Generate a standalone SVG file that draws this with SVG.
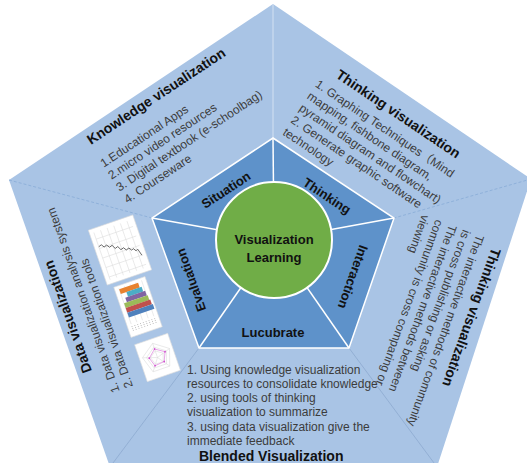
<svg xmlns="http://www.w3.org/2000/svg" width="527" height="463" viewBox="0 0 527 463">
  <style>
    .txt { font-family: "Liberation Sans", Arial, "Noto Sans CJK SC", sans-serif; }
    .ttl { font-size: 14px; font-weight: bold; fill: #111; }
    .itm { font-size: 12px; fill: #3c3c3c; }
    .seg { font-size: 13px; font-weight: bold; fill: #111; text-anchor: middle; }
    .divider { stroke: #8fb1da; stroke-width: 1; stroke-dasharray: 3 2; fill: none; }
    .spoke { stroke: #ffffff; stroke-width: 1.5; }
    .grid { stroke: #d9d9d9; stroke-width: 0.5; fill: none; }
  </style>

  <!-- outer ring -->
  <g id="outer-ring">
    <polygon points="273,4 531,179 437,467 110,467 9,180" fill="#a9c4e5"/>
  </g>

  <!-- connectors: section dividers and inner spokes -->
  <g id="connectors">
    <line x1="273" y1="4" x2="273" y2="138" stroke="#d3e1f2" stroke-width="1"/>
    <line class="divider" x1="9" y1="180" x2="152" y2="218"/>
    <line class="divider" x1="531" y1="179" x2="394" y2="218"/>
    <line x1="110" y1="467" x2="199" y2="348" stroke="#8da9cf" stroke-width="0.8"/>
    <line x1="437" y1="467" x2="349" y2="348" stroke="#8da9cf" stroke-width="0.8"/>
  </g>

  <!-- inner pentagon -->
  <g id="inner-ring">
    <polygon points="273,138 394,218 349,348 199,348 152,218" fill="#5e92ca" stroke="#ffffff" stroke-width="1.5"/>
    <line class="spoke" x1="273" y1="138" x2="274" y2="240"/>
    <line class="spoke" x1="394" y1="218" x2="274" y2="240"/>
    <line class="spoke" x1="349" y1="348" x2="274" y2="240"/>
    <line class="spoke" x1="199" y1="348" x2="274" y2="240"/>
    <line class="spoke" x1="152" y1="218" x2="274" y2="240"/>
  </g>

  <!-- centre node -->
  <g id="center">
    <circle cx="274" cy="240" r="58" fill="#70ad47" stroke="#ffffff" stroke-width="2"/>
    <text class="txt seg" x="274" y="244">Visualization</text>
    <text class="txt seg" x="274" y="262">Learning</text>
  </g>

  <!-- inner segment labels -->
  <g id="seg-situation">
    <text class="txt seg" transform="translate(226 190) rotate(-33.5)" y="4.5">Situation</text>
  </g>
  <g id="seg-thinking">
    <text class="txt seg" transform="translate(327 196) rotate(33.5)" y="4.5">Thinking</text>
  </g>
  <g id="seg-interaction">
    <text class="txt seg" transform="translate(353 277) rotate(109.5)" y="4.5">Interaction</text>
  </g>
  <g id="seg-evaluation">
    <text class="txt seg" transform="translate(191 280) rotate(-109.5)" y="4.5">Evaluation</text>
  </g>
  <g id="seg-lucubrate">
    <text class="txt seg" x="273" y="337">Lucubrate</text>
  </g>

  <!-- knowledge visualization -->
  <g id="knowledge" class="txt" transform="translate(91 145) rotate(-33.5)">
    <text class="ttl" x="0" y="0">Knowledge visualization</text>
    <text class="itm" x="-2" y="26">1.Educational Apps</text>
    <text class="itm" x="-2" y="40.3">2.micro video resources</text>
    <text class="itm" x="-2" y="54.6">3. Digital textbook (e-schoolbag)</text>
    <text class="itm" x="-2" y="69">4. Courseware</text>
  </g>

  <!-- thinking visualization (top right) -->
  <g id="thinking-top" class="txt" transform="translate(335 77) rotate(34)">
    <text class="ttl" x="0" y="0">Thinking visualization</text>
    <text class="itm" x="-12" y="19">1. Graphing Techniques（Mind</text>
    <text class="itm" x="-12" y="33.5">mapping, fishbone diagram,</text>
    <text class="itm" x="-12" y="48">pyramid diagram and flowchart)</text>
    <text class="itm" x="-12" y="62.5">2. Generate graphic software</text>
    <text class="itm" x="-12" y="77">technology</text>
  </g>

  <!-- thinking visualization (right) -->
  <g id="thinking-right" class="txt" transform="translate(492 247) rotate(110)">
    <text class="ttl" x="0" y="0">Thinking visualization</text>
    <text class="itm" x="-7" y="19">The interactive methods of community</text>
    <text class="itm" x="-7" y="33.5">is cross publishing or asking</text>
    <text class="itm" x="-7" y="48">The interactive methods between</text>
    <text class="itm" x="-7" y="62.5">community  is cross comparing or</text>
    <text class="itm" x="-7" y="77">viewing</text>
  </g>

  <!-- blended visualization -->
  <g id="blended" class="txt">
    <text class="itm" x="187" y="373.5">1. Using knowledge visualization</text>
    <text class="itm" x="187" y="387.8">resources to consolidate knowledge</text>
    <text class="itm" x="187" y="402.1">2. using tools of thinking</text>
    <text class="itm" x="187" y="416.4">visualization to summarize</text>
    <text class="itm" x="187" y="430.7">3. using data visualization give the</text>
    <text class="itm" x="187" y="445">immediate feedback</text>
    <text class="ttl" x="199" y="461">Blended Visualization</text>
  </g>

  <!-- data visualization -->
  <g id="data" class="txt" transform="translate(92 371) rotate(-109.5)">
    <text class="ttl" x="0" y="0">Data visualization</text>
    <text class="itm" x="-28" y="19.4">1. Data visualization analysis system</text>
    <text class="itm" x="-28" y="33.7">2. Data visualization tools</text>
  </g>

  <!-- small chart thumbnails -->
  <g id="chart-line" transform="translate(120 250) rotate(-19)">
    <rect x="-23.5" y="-29" width="47" height="58" fill="#ffffff" stroke="#dcdcdc" stroke-width="0.6"/>
    <path class="grid" d="M-19,-25 V25 M-12,-25 V25 M-5,-25 V25 M2,-25 V25 M9,-25 V25 M16,-25 V25 M-19,-18 H20 M-19,-8 H20 M-19,2 H20 M-19,12 H20 M-19,22 H20"/>
    <polyline points="-19,-10 -16,-11 -14,-8 -11,-9 -9,-6 -6,-7 -4,-3 -1,-4 1,0 4,-1 6,2 9,1 11,4 13,3 15,6 17,5 19,12" fill="none" stroke="#555" stroke-width="0.8"/>
  </g>

  <g id="chart-bar" transform="translate(138 307) rotate(-19)">
    <rect x="-16.5" y="-26.5" width="33" height="53" fill="#ffffff" stroke="#dcdcdc" stroke-width="0.6"/>
    <path class="grid" d="M-12,-24 V14 M-6,-24 V14 M0,-24 V14 M6,-24 V14 M12,-24 V14"/>
    <rect x="-12" y="-23" width="20" height="5" fill="#e8822f"/>
    <rect x="-6" y="-18" width="16" height="5" fill="#4bacc6"/>
    <rect x="-9" y="-13" width="21" height="5" fill="#8064a2"/>
    <rect x="-12" y="-8" width="25" height="5" fill="#9bbb59"/>
    <rect x="-12" y="-3" width="26" height="5" fill="#c0504d"/>
    <rect x="-12" y="2" width="27" height="5" fill="#4f81bd"/>
    <path d="M-12,16 V22 M-9,16 V22 M-6,16 V22 M-3,16 V22 M0,16 V22 M3,16 V22 M6,16 V22 M9,16 V22 M12,16 V22" stroke="#b5b5b5" stroke-width="0.8" stroke-dasharray="1 1"/>
  </g>

  <g id="chart-radar" transform="translate(157.5 357.5) rotate(-19)">
    <rect x="-17.5" y="-19.5" width="35" height="39" fill="#ffffff" stroke="#dcdcdc" stroke-width="0.6"/>
    <polygon class="grid" points="0,-15 14.3,-4.6 8.8,12.1 -8.8,12.1 -14.3,-4.6" stroke="#bdbdbd"/>
    <polygon class="grid" points="0,-11 10.5,-3.4 6.5,8.9 -6.5,8.9 -10.5,-3.4" stroke="#bdbdbd"/>
    <polygon class="grid" points="0,-7 6.7,-2.2 4.1,5.7 -4.1,5.7 -6.7,-2.2" stroke="#bdbdbd"/>
    <path class="grid" d="M0,0 L0,-15 M0,0 L14.3,-4.6 M0,0 L8.8,12.1 M0,0 L-8.8,12.1 M0,0 L-14.3,-4.6" stroke="#bdbdbd"/>
    <polygon points="0,-9 9,-3 5,6 -5,7 -8,-2" fill="none" stroke="#d65cd6" stroke-width="0.5"/>
    <g fill="#d04ed0">
      <circle cx="0" cy="-9" r="0.9"/>
      <circle cx="9" cy="-3" r="0.9"/>
      <circle cx="5" cy="6" r="0.9"/>
      <circle cx="-5" cy="7" r="0.9"/>
      <circle cx="-8" cy="-2" r="0.9"/>
    </g>
  </g>
</svg>
